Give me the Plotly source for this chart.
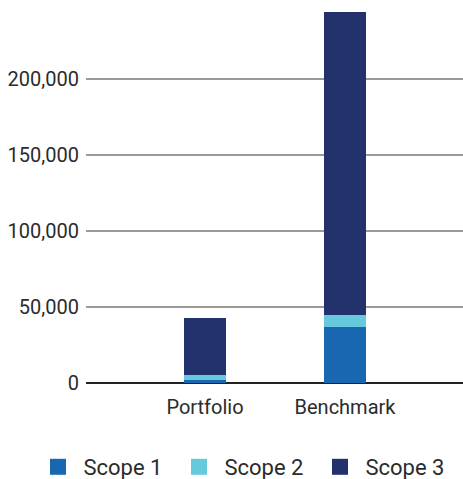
import plotly.graph_objects as go

categories = ["Portfolio", "Benchmark"]
series_names = ["Scope 1", "Scope 2", "Scope 3"]
scope1 = [2000, 37000]
scope2 = [3300, 7700]
scope3 = [37500, 199300]
colors = ["#1967b1", "#66c9dc", "#23316c"]
tick_vals = [0, 50000, 100000, 150000, 200000]
tick_text = ["0", "50,000", "100,000", "150,000", "200,000"]

fig = go.Figure()
for name, vals, col in zip(series_names, [scope1, scope2, scope3], colors):
    fig.add_trace(go.Bar(x=categories, y=vals, name=name, marker_color=col,
                         marker_line_width=0, width=0.3, showlegend=False))
for name, col in zip(series_names, colors):
    fig.add_trace(go.Scatter(x=[None], y=[None], mode="markers", name=" " + name,
                             marker=dict(symbol="square", size=16, color=col)))

fig.update_layout(
    barmode="stack",
    width=463, height=479,
    margin=dict(l=0, r=0, t=12, b=96),
    plot_bgcolor="white", paper_bgcolor="white",
    font=dict(family="Roboto", size=20, color="#2b2b2b"),
    xaxis=dict(domain=[86/463, 1], range=[-0.85, 1.843], showgrid=False, showline=False,
               ticks="outside", ticklen=6, tickcolor="rgba(0,0,0,0)"),
    yaxis=dict(range=[0, 244100], tickvals=tick_vals, ticktext=tick_text,
               showgrid=True, gridcolor="#9a9a9a", gridwidth=2,
               zeroline=True, zerolinecolor="#222222", zerolinewidth=2,
               ticks="outside", ticklen=2, tickcolor="rgba(0,0,0,0)",
               automargin=False),
    legend=dict(orientation="h", x=0.5389, xanchor="center",
                yref="container", y=1 - 467/479, yanchor="middle",
                entrywidth=96, traceorder="normal", font=dict(size=22)),
)
fig.write_html("out.html", config={"displayModeBar": False},
               post_script="document.body.style.margin='0';document.body.style.overflow='hidden';")
